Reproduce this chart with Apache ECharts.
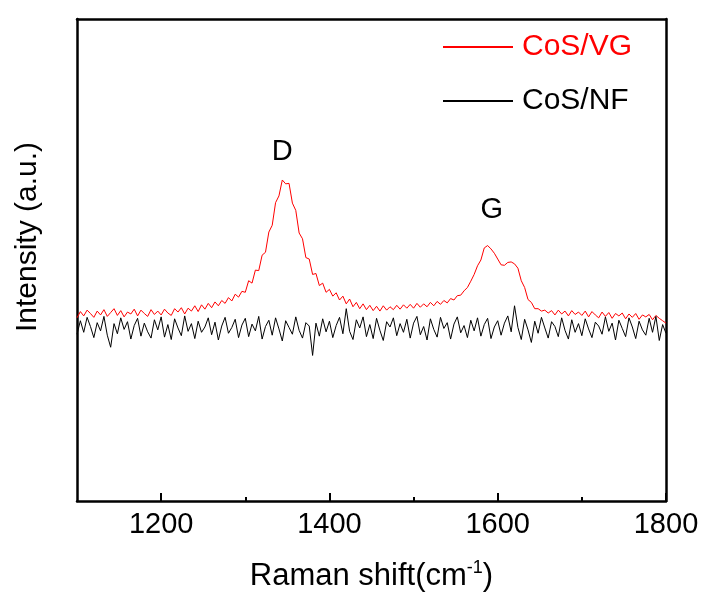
<!DOCTYPE html>
<html>
<head>
<meta charset="utf-8">
<script src="https://cdn.jsdelivr.net/npm/echarts@6/dist/echarts.min.js"></script>
<style>
html,body{margin:0;padding:0;background:#fff;}
#chart{width:705px;height:599px;}
</style>
</head>
<body>
<div id="chart"></div>
<script>
// Raman shift sampling (cm^-1)
const shiftStart = 1100;
const shiftStep = 4;

// CoS/VG intensity (a.u.), one value every 4 cm^-1 from 1100 to 1800
const cosVG = [
  38.0, 39.3, 38.4, 39.6, 38.9, 38.1, 39.4, 38.6, 39.7, 38.3, 39.1, 39.9, 38.5, 39.5, 38.2, 39.2, 38.8, 39.8, 38.4, 39.6, 38.9, 38.3, 39.7, 38.7, 39.4,
  38.6, 39.8, 39.0, 38.5, 39.9, 39.2, 40.1, 38.8, 40.0, 39.4, 40.5, 39.3, 40.7, 39.8, 41.0, 40.1, 41.3, 40.5, 41.6, 41.0, 42.2, 41.5, 42.9, 42.3, 43.5,
  43.3, 45.7, 45.2, 47.9, 47.8, 51.0, 51.6, 55.8, 57.2, 61.9, 63.3, 66.6, 65.8, 65.9, 61.8, 60.3, 55.6, 54.4, 50.5, 50.2, 47.0, 47.2, 44.7, 45.2, 43.3,
  43.9, 42.5, 43.2, 41.7, 42.5, 40.9, 41.9, 40.3, 41.2, 39.9, 40.9, 39.7, 40.6, 39.5, 40.4, 39.4, 40.5, 39.6, 40.3, 39.7, 40.6, 39.8, 40.7, 40.0, 40.8,
  40.0, 41.0, 40.2, 40.9, 40.3, 41.2, 40.5, 41.4, 40.8, 41.6, 41.1, 42.0, 41.7, 42.6, 42.7, 43.6, 44.3, 45.6, 47.0, 48.8, 50.0, 52.5, 53.0, 52.3, 51.4,
  50.2, 49.0, 48.9, 49.5, 49.6, 49.2, 48.3, 45.7, 44.3, 41.8, 41.2, 39.9, 39.9, 39.4, 39.6, 39.0, 39.5, 38.6, 39.6, 38.8, 39.4, 38.4, 39.5, 38.7, 39.2,
  38.5, 39.4, 38.2, 39.3, 38.6, 38.0, 39.2, 38.3, 39.1, 37.9, 38.9, 38.4, 39.0, 37.8, 38.8, 38.1, 38.9, 37.7, 38.6, 38.2, 38.7, 37.6, 38.5, 37.9, 37.4, 36.9
];

// CoS/NF intensity (a.u.), same sampling
const cosNF = [
  34.6, 37.4, 35.0, 38.1, 36.2, 33.9, 37.0, 35.3, 38.3, 34.4, 31.9, 36.8, 34.7, 38.0, 35.6, 37.2, 33.6, 36.4, 37.9, 34.2, 36.9, 35.1, 33.8, 37.6, 35.5,
  38.2, 34.0, 36.6, 33.5, 37.8, 35.9, 34.3, 38.4, 35.2, 36.8, 33.7, 37.3, 35.0, 36.1, 38.0, 34.5, 37.1, 33.4, 36.3, 38.1, 34.8, 36.0, 37.7, 33.9, 36.5,
  37.9, 34.1, 36.7, 35.3, 38.3, 33.6, 36.2, 37.5, 34.4, 38.0, 35.7, 33.2, 37.4, 36.0, 34.6, 38.2, 35.4, 33.8, 37.0, 36.3, 30.2, 36.9, 34.2, 37.8, 35.1,
  37.3, 33.9, 36.4, 38.1, 34.7, 39.9, 35.2, 33.5, 37.6, 35.9, 38.2, 34.1, 36.6, 33.7, 37.9, 35.4, 33.3, 37.2, 36.1, 38.0, 34.3, 36.8, 35.0, 37.7, 33.8,
  36.9, 38.3, 34.5, 36.2, 33.4, 37.8, 35.6, 34.0, 38.1, 35.8, 37.0, 33.6, 36.7, 38.2, 34.9, 36.4, 33.9, 37.5, 35.3, 38.0, 34.2, 36.6, 37.9, 33.7, 36.1,
  37.4, 34.4, 36.9, 38.4, 35.1, 40.5, 36.0, 33.5, 37.7, 35.5, 32.9, 37.3, 34.8, 38.1, 35.9, 33.8, 37.2, 36.2, 34.1, 38.0, 35.4, 33.6, 37.6, 35.0, 36.8,
  34.3, 37.8, 35.7, 33.9, 37.1, 36.3, 34.6, 38.2, 35.2, 36.9, 33.4, 37.5, 35.8, 34.1, 38.0, 36.1, 33.7, 37.3, 35.5, 34.4, 37.9, 35.0, 38.3, 33.3, 36.6, 34.8
];

// Tick labels
const majorTicks = [1200, 1400, 1600, 1800];
const minorTicks = [1300, 1500, 1700];

// Series names and peak labels
const seriesNames = ['CoS/VG', 'CoS/NF'];
const peakLabels = [
  { name: 'D', shift: 1344, value: 72.4 },
  { name: 'G', shift: 1593, value: 60.4 }
];

const toPairs = arr => arr.map((v, i) => [shiftStart + i * shiftStep, v]);

const FONT = '"Liberation Sans", Arial, sans-serif';
const chart = echarts.init(document.getElementById('chart'), null, { renderer: 'canvas' });

const lineAxis = { show: true, onZero: false, lineStyle: { color: '#000', width: 2.5 } };

chart.setOption({
  animation: false,
  backgroundColor: '#fff',
  grid: { left: 77, right: 39, top: 19, bottom: 98, containLabel: false },
  legend: {
    left: 443,
    top: 31,
    padding: 0,
    orient: 'vertical',
    itemWidth: 70,
    itemHeight: 2,
    itemGap: 22,
    icon: 'rect',
    data: [
      { name: seriesNames[0], textStyle: { color: '#ff0000' } },
      { name: seriesNames[1], textStyle: { color: '#000' } }
    ],
    textStyle: { fontFamily: FONT, fontSize: 30, lineHeight: 32, padding: [0, 0, 0, 4] }
  },
  xAxis: [
    {
      type: 'value',
      min: 1100,
      max: 1800,
      interval: 100,
      position: 'bottom',
      axisLine: lineAxis,
      axisTick: { show: true, inside: true, length: 8, customValues: majorTicks, lineStyle: { color: '#000', width: 2 } },
      axisLabel: { show: true, customValues: majorTicks, formatter: v => String(v), margin: 9, color: '#000', fontFamily: FONT, fontSize: 29 },
      splitLine: { show: false },
      name: 'Raman shift(cm{sup|-1})',
      nameLocation: 'middle',
      nameGap: 58,
      nameTextStyle: {
        color: '#000', fontFamily: FONT, fontSize: 31,
        rich: { sup: { fontFamily: FONT, fontSize: 18, color: '#000', padding: [0, 0, 16, 0] } }
      }
    },
    {
      type: 'value',
      min: 1100,
      max: 1800,
      interval: 100,
      position: 'bottom',
      axisLine: { show: false },
      axisTick: { show: true, inside: true, length: 4, customValues: minorTicks, lineStyle: { color: '#000', width: 2 } },
      axisLabel: { show: false },
      splitLine: { show: false }
    },
    {
      type: 'value',
      min: 1100,
      max: 1800,
      position: 'top',
      axisLine: lineAxis,
      axisTick: { show: false },
      axisLabel: { show: false },
      splitLine: { show: false }
    }
  ],
  yAxis: [
    {
      type: 'value',
      min: 0,
      max: 100,
      position: 'left',
      axisLine: lineAxis,
      axisTick: { show: false },
      axisLabel: { show: false },
      splitLine: { show: false },
      name: 'Intensity (a.u.)',
      nameLocation: 'middle',
      nameGap: 34,
      nameTextStyle: { color: '#000', fontFamily: FONT, fontSize: 30, padding: [0, 0, 0, 46] }
    },
    {
      type: 'value',
      min: 0,
      max: 100,
      position: 'right',
      axisLine: lineAxis,
      axisTick: { show: false },
      axisLabel: { show: false },
      splitLine: { show: false }
    }
  ],
  series: [
    {
      name: seriesNames[0],
      type: 'line',
      data: toPairs(cosVG),
      showSymbol: false,
      symbol: 'none',
      lineStyle: { color: '#ff0000', width: 1 },
      itemStyle: { color: '#ff0000' },
      z: 2,
      markPoint: {
        symbol: 'circle',
        symbolSize: 1,
        itemStyle: { color: 'rgba(0,0,0,0)' },
        label: { show: true, position: 'inside', formatter: '{b}', color: '#000', fontFamily: FONT, fontSize: 29 },
        data: peakLabels.map(p => ({ name: p.name, coord: [p.shift, p.value] }))
      }
    },
    {
      name: seriesNames[1],
      type: 'line',
      data: toPairs(cosNF),
      showSymbol: false,
      symbol: 'none',
      lineStyle: { color: '#000', width: 1 },
      itemStyle: { color: '#000' },
      z: 3
    }
  ]
});
</script>
</body>
</html>
